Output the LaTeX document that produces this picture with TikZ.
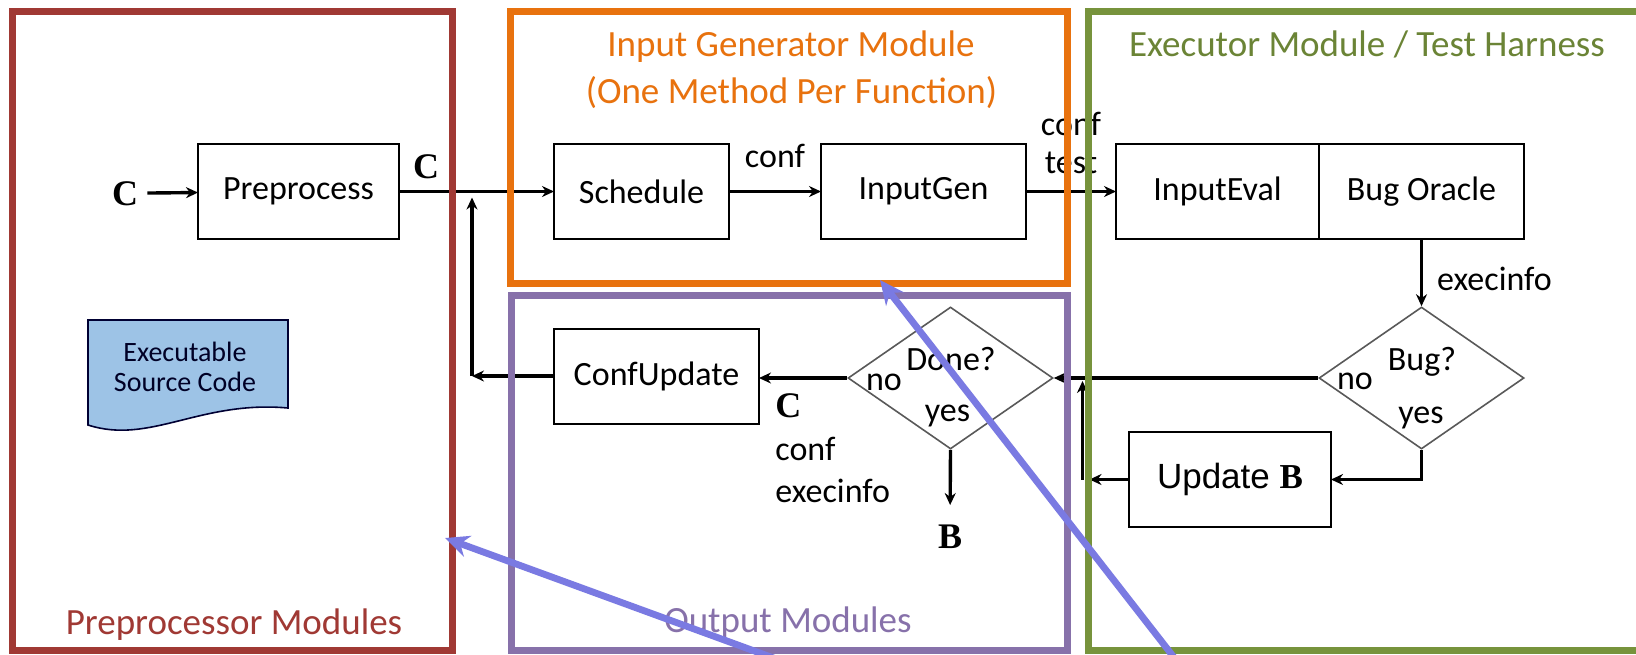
\documentclass[tikz,border=0pt]{standalone}
\usepackage{fontspec}
\setmainfont{Carlito}
\newfontfamily\timesfont{Liberation Serif}
\newfontfamily\arialfont{Liberation Sans}
\usepackage{tikz}
\usetikzlibrary{arrows.meta}
\usetikzlibrary{shapes.geometric}
\usetikzlibrary{positioning}

\definecolor{prebrown}{RGB}{160,57,52}
\definecolor{genorange}{RGB}{232,114,14}
\definecolor{outpurple}{RGB}{135,113,170}
\definecolor{exegreen}{RGB}{119,147,60}
\definecolor{docblue}{RGB}{157,195,230}
\definecolor{hintblue}{RGB}{122,122,226}

\newcommand{\bvar}[1]{{\timesfont\bfseries #1}}

\begin{document}
\begin{tikzpicture}[x=0.5pt, y=-0.5pt,
    box/.style={draw, line width=1pt, outer sep=0pt, minimum height=47.5pt, font=\fontsize{17}{20}\selectfont},
    decision/.style={diamond, draw=black!65, line width=0.8pt, minimum width=102.5pt, minimum height=71pt, inner sep=0pt},
    flow/.style={line width=1.7pt, -{Stealth[length=6pt,width=5.5pt]}},
    txt/.style={inner sep=0pt, font=\fontsize{17}{20}\selectfont},
    title/.style={inner sep=0pt, anchor=base, font=\fontsize{18.5}{22}\selectfont},
    module/.style={line width=3.5pt},
    hint/.style={draw=hintblue, line width=3.4pt, -{Stealth[length=12pt,width=11pt]}}]
    \useasboundingbox (0,0) rectangle (1636,654);
    \clip (0,0) rectangle (1636,654);
    \fill[white] (0,0) rectangle (1636,654);

    % source document
    \filldraw[fill=docblue, draw=black!80!blue, line width=0.8pt]
        (88,320) -- (288,320) -- (288,408) .. controls (200,400) and (150,445) .. (88,425) -- cycle;
    \node[inner sep=0pt, align=center, text=black!85!blue, font=\fontsize{14}{15}\selectfont] (srccode) at (185,367) {Executable\\Source Code};

    % blocks
    \node[txt, anchor=base, font=\fontsize{18}{20}\selectfont] (cin) at (125,205) {\bvar{C}};
    \node[box, minimum width=100.5pt] (pre) at (298.5,191.5) {Preprocess};
    \node[txt, anchor=base, font=\fontsize{18}{20}\selectfont] (cout) at (426,178) {\bvar{C}};
    \node[box, minimum width=87.5pt] (sched) at (641.5,191.5) {Schedule};
    \node[box, minimum width=102.5pt] (igen) at (923.5,191.5) {InputGen};
    \node[box, minimum width=101.5pt] (ieval) at (1217.5,191.5) {InputEval};
    \node[box, minimum width=102.5pt, right=0pt of ieval] (oracle) {Bug Oracle};

    \node[decision] (bugq) at (1421.5,378) {};
    \node[decision] (doneq) at (950.5,378) {};
    \node[box, minimum width=102.5pt] (confupd) at (656.5,376) {ConfUpdate};
    \node[box, minimum width=101pt, font={\arialfont\fontsize{17.5}{21}\selectfont}] (update) at (1230,479.5) {Update \bvar{B}};

    \node[txt, anchor=base] (bugtxt) at (1422,370) {Bug?};
    \node[txt, anchor=base] (bugno) at (1355,389) {no};
    \node[txt, anchor=base] (bugyes) at (1421,423) {yes};
    \node[txt, anchor=base] (donetxt) at (951,370) {Done?};
    \node[txt, anchor=base] (doneno) at (884,390) {no};
    \node[txt, anchor=base] (doneyes) at (947.5,421.5) {yes};

    \node[txt, anchor=base, font=\fontsize{18}{20}\selectfont] (bout) at (950,548) {\bvar{B}};
    \node[txt, anchor=base west, font=\fontsize{18}{20}\selectfont] (dc) at (775,417) {\bvar{C}};
    \node[txt, anchor=base west] (dconf) at (775,460) {conf};
    \node[txt, anchor=base west] (dexec) at (775,502) {execinfo};

    % connectors
    \draw[flow, shorten <=4.5pt] (cin) -- (pre);
    \draw[flow] (pre.east) -- (sched.west);
    \draw[flow] (sched.east) -- node[txt, above=11pt] {conf} (igen.west);
    \draw[flow] (igen.east) -- node[txt, above=8pt, align=center, font=\fontsize{17}{19}\selectfont] {conf\\test} (ieval.west);
    \draw[flow] (oracle.south) -- node[txt, right=7pt, pos=0.6] {execinfo} (bugq.north);
    \draw[flow] (bugq.west) -- (doneq.east);
    \draw[flow] (doneq.west) -- (doneq.west -| confupd.east);
    \draw[flow, shorten >=9.5pt] (doneq.south) -- (bout.north);
    \draw[flow] (bugq.south) |- (update.east);

    \coordinate (upjoin) at (1082.5,479.5);
    \draw[flow, shorten >=3.5pt] (update.west) -- (upjoin);
    \draw[flow, shorten >=1.5pt] (upjoin) -- (upjoin |- bugq.west);

    \coordinate (retjoin) at (472,376);
    \draw[flow] (confupd.west) -- (retjoin);
    \draw[flow, shorten >=3pt] (retjoin) -- (retjoin |- pre.east);

    % module frames
    \draw[module, prebrown] (12,11.5) rectangle (452,650);
    \draw[module, genorange] (510.5,11.5) rectangle (1067,283.5);
    \draw[module, outpurple] (511,295) rectangle (1067,650);
    \draw[module, exegreen] (1088,11.5) rectangle (1700,650);

    \node[title, text=genorange] (gentitle) at (791,56.7) {Input Generator Module};
    \node[title, text=genorange] (gensub) at (791.5,103) {(One Method Per Function)};
    \node[title, text=exegreen!90!black] (exetitle) at (1367,56.7) {Executor Module / Test Harness};
    \node[title, text=prebrown] (pretitle) at (234,634) {Preprocessor Modules};
    \node[title, text=outpurple] (outtitle) at (788,632) {Output Modules};

    % pointers
    \coordinate (pretip) at (445,538);
    \coordinate (prefoot) at (779,660);
    \coordinate (gentip) at (880,280);
    \coordinate (genfoot) at (1176,660);
    \draw[hint] (prefoot) -- (pretip);
    \draw[hint] (genfoot) -- (gentip);
\end{tikzpicture}
\end{document}
